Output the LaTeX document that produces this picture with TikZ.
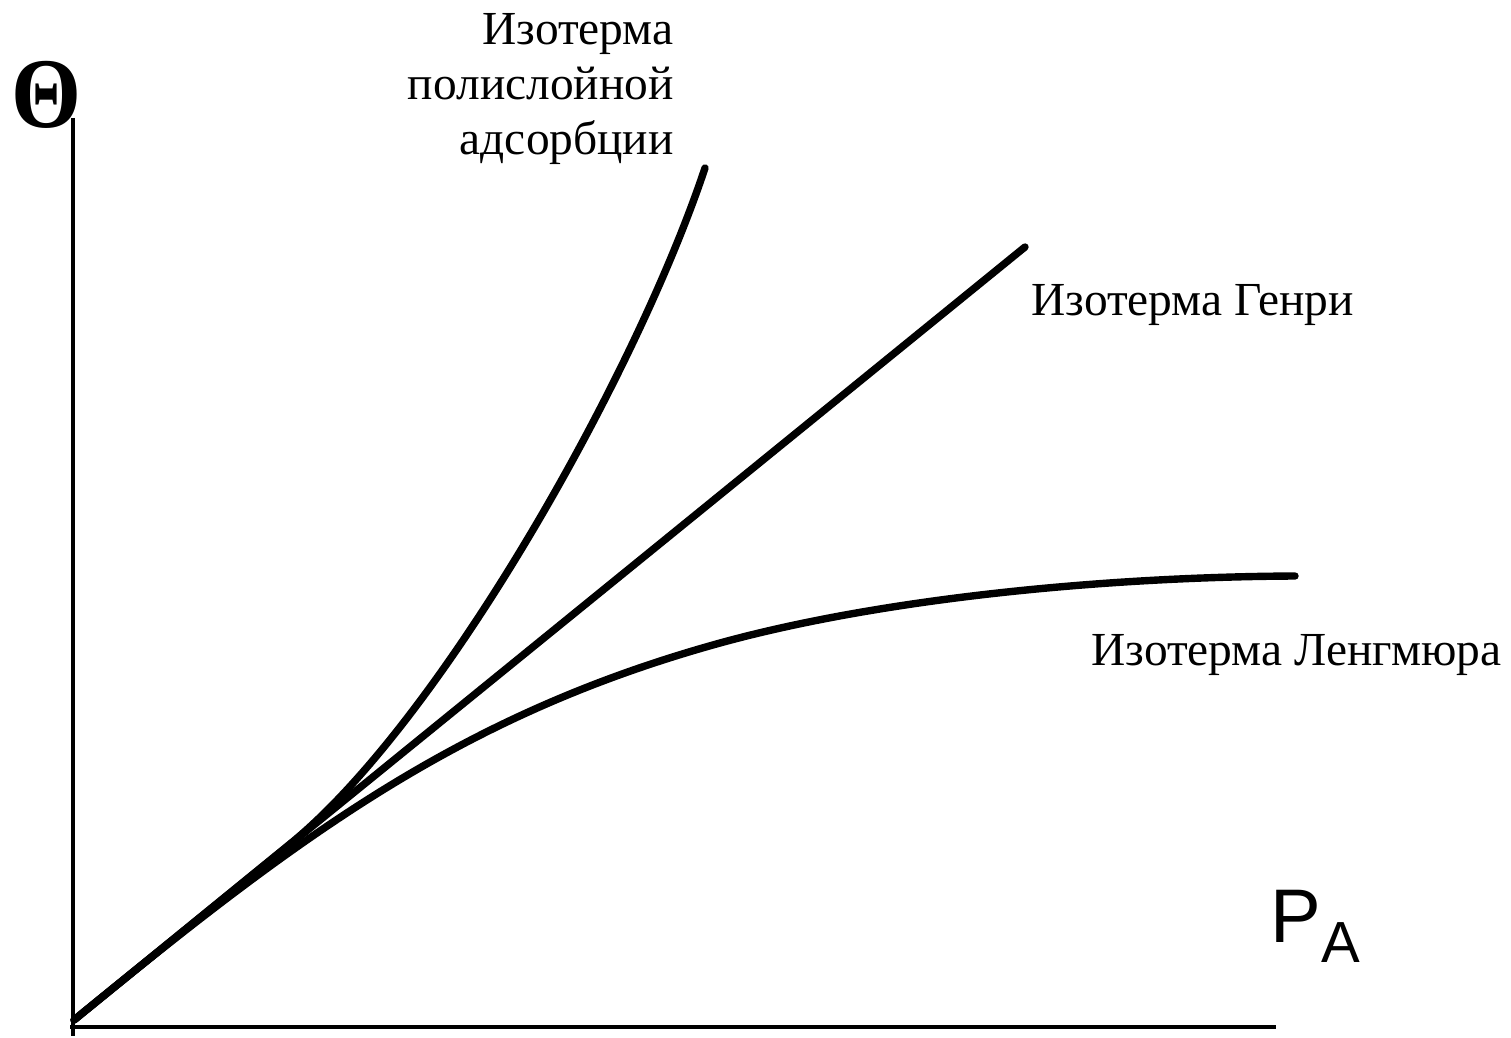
\documentclass[tikz,border=0pt]{standalone}
\usepackage{fontspec}
\setmainfont{Liberation Serif}
\newfontfamily\arialfont{Liberation Sans}
\begin{document}
\begin{tikzpicture}[x=0.5pt,y=-0.5pt,
  axisline/.style={line width=2pt,black},
  isoline/.style={line width=3.7pt,black,line cap=round,line join=round},
  lbl/.style={inner sep=0pt,font=\fontsize{23.7}{27.5}\selectfont}]
\useasboundingbox (0,0) rectangle (1511,1038);
\coordinate (O) at (74,1020);
\coordinate (ytop) at (73,118);
\coordinate (ybot) at (73,1036);
\coordinate (xleft) at (70,1027);
\coordinate (xright) at (1276,1027);
\draw[axisline] (ytop) -- (ybot);
\draw[axisline] (xleft) -- (xright);
% Henry
\coordinate (henryEnd) at (1025,247);
\draw[isoline] (O) -- (henryEnd);
% polylayer
\coordinate (polySplit) at (290,844);
\coordinate (polyEnd) at (705,168);
\draw[isoline] (O) -- (polySplit) .. controls (440,722) and (635,378) .. (polyEnd);
% Langmuir
\coordinate (langMid) at (720,643);
\coordinate (langEnd) at (1295,576);
\draw[isoline] (O) .. controls (300,835) and (460,715) .. (langMid)
  .. controls (880,599) and (1100,577) .. (langEnd);
% labels
\node[lbl,anchor=base west] (theta) at (11,127) {\fontsize{50}{50}\selectfont\bfseries\scalebox{0.9}[1]{Θ}};
\node[lbl,anchor=base west] (pa) at (1270,942) {\arialfont\fontsize{38}{40}\selectfont P\raisebox{-10pt}{\fontsize{29}{30}\selectfont A}};
\node[lbl,anchor=north east,align=right] (poly) at (674,13) {Изотерма\\полислойной\\адсорбции};
\node[lbl,anchor=base west] (henry) at (1031,315) {Изотерма Генри};
\node[lbl,anchor=base west] (lang) at (1091,665) {Изотерма Ленгмюра};
\end{tikzpicture}
\end{document}
